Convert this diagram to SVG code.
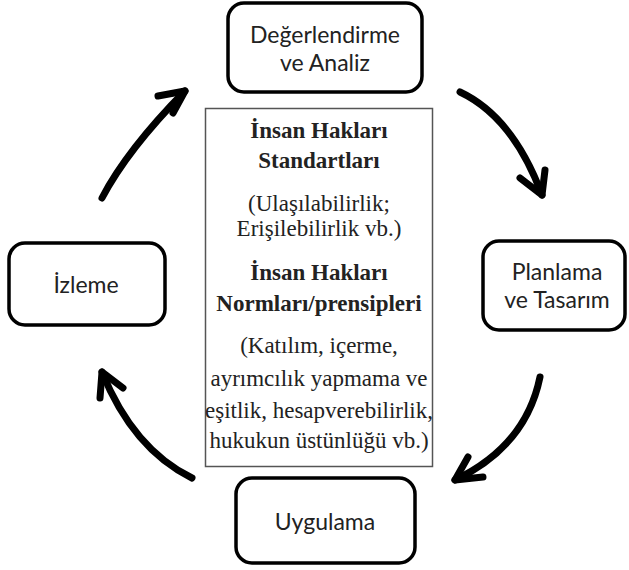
<svg xmlns="http://www.w3.org/2000/svg" width="629" height="570" viewBox="0 0 629 570">
<style>
.node rect{fill:#fff;stroke:#000;stroke-width:3.5}
.nt{font-family:Lato,"Open Sans",sans-serif;font-size:23px;fill:#222;text-anchor:middle}
.ct{font-family:"Liberation Serif","DejaVu Serif",serif;font-size:23px;fill:#222;text-anchor:middle}
.b{font-weight:bold}
.arr path{fill:none;stroke:#000;stroke-width:7;stroke-linecap:round;stroke-linejoin:round}
</style>
<rect width="629" height="570" fill="#fff"/>
<g id="center">
<rect x="205.5" y="108.5" width="227" height="358" fill="#fff" stroke="#555" stroke-width="1.5"/>
<text class="ct b" x="319" y="138">İnsan Hakları</text>
<text class="ct b" x="319" y="168">Standartları</text>
<text class="ct" x="319" y="211">(Ulaşılabilirlik;</text>
<text class="ct" x="319" y="236">Erişilebilirlik vb.)</text>
<text class="ct b" x="319" y="280">İnsan Hakları</text>
<text class="ct b" x="319" y="311">Normları/prensipleri</text>
<text class="ct" x="319" y="353">(Katılım, içerme,</text>
<text class="ct" x="319" y="386">ayrımcılık yapmama ve</text>
<text class="ct" x="319" y="418">eşitlik, hesapverebilirlik,</text>
<text class="ct" x="319" y="448">hukukun üstünlüğü vb.)</text>
</g>
<g id="n-degerlendirme" class="node">
<rect x="228" y="3" width="194" height="89" rx="16"/>
<text class="nt" x="325" y="43">Değerlendirme<tspan x="325" dy="28">ve Analiz</tspan></text>
</g>
<g id="n-planlama" class="node">
<rect x="483" y="241" width="142" height="89" rx="16"/>
<text class="nt" x="557" y="280">Planlama<tspan x="557" dy="28">ve Tasarım</tspan></text>
</g>
<g id="n-uygulama" class="node">
<rect x="236" y="478" width="179" height="85" rx="16"/>
<text class="nt" x="325" y="530">Uygulama</text>
</g>
<g id="n-izleme" class="node">
<rect x="9" y="243" width="156" height="82" rx="16"/>
<text class="nt" x="86" y="293">İzleme</text>
</g>
<g id="connectors" class="arr">
<path d="M460,92 Q513,117 542,195"/>
<path d="M520,178 L542,195 L545,170"/>
<path d="M540,377 Q526,446 455,480"/>
<path d="M468,457 L455,480 L483,477"/>
<path d="M192,478 Q133,449 102,372"/>
<path d="M123,388 L102,372 L100,398"/>
<path d="M102,198 Q127,150 185,91"/>
<path d="M158,96 L185,91 L173,113"/>
</g>
</svg>
